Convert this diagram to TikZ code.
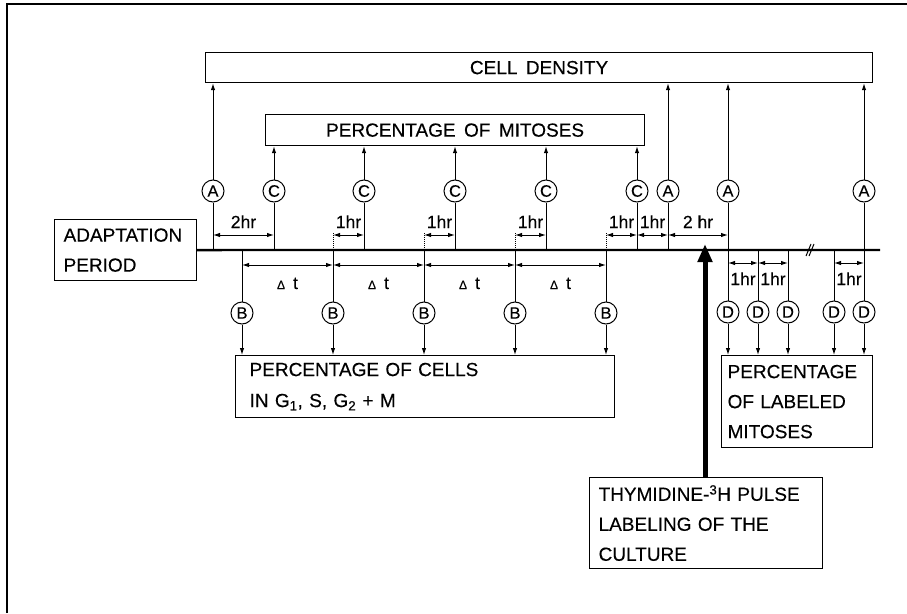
\documentclass[tikz,border=0pt]{standalone}
\usepackage{fontspec}
\setmainfont{Liberation Sans}[FakeBold=0.3]
\newfontfamily\lettfont{Liberation Sans}[WordSpace=1.6,FakeBold=0.3]
\usetikzlibrary{arrows.meta}
\tikzset{
  boxst/.style={draw, line width=1.2pt, inner sep=0pt, font=\lettfont\fontsize{19}{30}\selectfont},
  circ/.style={draw, circle, minimum size=22pt, inner sep=0pt, line width=1pt, font=\fontsize{16.5}{16.5}\selectfont},
  conn/.style={line width=1pt},
  arr/.style={line width=1pt, -{Latex[length=7pt,width=4.5pt]}},
  dimarr/.style={line width=1pt, {Latex[length=7pt,width=4.5pt]}-{Latex[length=7pt,width=4.5pt]}},
  tline/.style={line width=2.3pt},
  lbl/.style={inner sep=0pt, anchor=base, font=\fontsize{17.5}{17.5}\selectfont},
}
\newcommand{\dlt}{{\fontsize{12}{12}\selectfont Δ}\hspace{8pt}t}
\begin{document}
\begin{tikzpicture}[x=1pt,y=-1pt]
\useasboundingbox (0,0) rectangle (907,613);
\draw[line width=1.3pt] (7,613) -- (7,4) -- (907,4);

% boxes
\node[boxst, minimum width=667pt, minimum height=30pt, anchor=north west] (density) at (205,52) {CELL DENSITY};
\node[boxst, minimum width=379pt, minimum height=31pt, anchor=north west] (mitoses) at (265,114) {PERCENTAGE OF MITOSES};
\node[boxst, anchor=north west, text width=124pt, inner xsep=9pt, minimum height=61pt, align=left] (adapt) at (54,219) {ADAPTATION\\PERIOD};
\node[boxst, anchor=north west, text width=351pt, inner xsep=14pt, minimum height=62pt, align=left, font=\lettfont\fontsize{19}{31}\selectfont] (cells) at (235,355) {PERCENTAGE OF CELLS\\IN G\textsubscript{1}, S, G\textsubscript{2} + M};
\node[boxst, anchor=north west, text width=139pt, inner xsep=6pt, minimum height=92pt, align=left] (labeled) at (721,355) {PERCENTAGE\\OF LABELED\\MITOSES};
\node[boxst, anchor=north west, text width=215pt, inner xsep=9pt, minimum height=91pt, align=left] (thym) at (589,477) {THYMIDINE-\textsuperscript{3}H PULSE\\LABELING OF THE\\CULTURE};

% timeline
\coordinate (tend) at (880,250);
\draw[tline] (adapt.east) -- (tend);
\draw[conn] (806,256) -- (811,244) (809,256) -- (814,244);

% circles
\node[circ] (A1) at (213,191) {A};
\node[circ] (A2) at (668,191) {A};
\node[circ] (A3) at (728,191) {A};
\node[circ] (A4) at (864,191) {A};
\node[circ] (C1) at (274,191) {C};
\node[circ] (C2) at (364,191) {C};
\node[circ] (C3) at (455,191) {C};
\node[circ] (C4) at (546,191) {C};
\node[circ] (C5) at (637,191) {C};
\node[circ] (B1) at (242,313) {B};
\node[circ] (B2) at (333,313) {B};
\node[circ] (B3) at (424,313) {B};
\node[circ] (B4) at (515,313) {B};
\node[circ] (B5) at (606,313) {B};
\node[circ] (D1) at (728,312) {D};
\node[circ] (D2) at (758,312) {D};
\node[circ] (D3) at (788,312) {D};
\node[circ] (D4) at (834,312) {D};
\node[circ] (D5) at (864,312) {D};

% connectors up
\foreach \n in {A1,A2,A3,A4} \draw[arr] (\n) -- (\n |- density.south);
\foreach \n in {C1,C2,C3,C4,C5} \draw[arr] (\n) -- (\n |- mitoses.south);
\foreach \n in {A1,A2,C1,C2,C3,C4,C5} \draw[conn] (\n) -- (\n |- tend);
\draw[conn] (A3) -- (D1);
\draw[conn] (A4) -- (D5);
% connectors down
\foreach \n in {B1,B2,B3,B4,B5} {
  \draw[conn] (\n |- tend) -- (\n);
  \draw[arr] (\n) -- (\n |- cells.north);
}
\foreach \n in {B2,B3,B4,B5} \draw[conn, densely dotted] (\n |- tend) -- ++(0,-18);
\foreach \n in {D2,D3,D4} \draw[conn] (\n |- tend) -- (\n);
\foreach \n in {D1,D2,D3,D4,D5} \draw[arr] (\n) -- (\n |- labeled.north);

% dimension arrows above
\draw[dimarr] (A1 |- 0,235) -- (C1 |- 0,235);
\draw[dimarr] (B2 |- 0,235) -- (C2 |- 0,235);
\draw[dimarr] (B3 |- 0,235) -- (C3 |- 0,235);
\draw[dimarr] (B4 |- 0,235) -- (C4 |- 0,235);
\draw[dimarr] (B5 |- 0,235) -- (C5 |- 0,235);
\draw[dimarr] (C5 |- 0,235) -- (A2 |- 0,235);
\draw[dimarr] (A2 |- 0,235) -- (A3 |- 0,235);
\path (A1 |- 0,228) -- node[lbl] (h1) {2hr} (C1 |- 0,228);
\path (B2 |- 0,228) -- node[lbl] (h2) {1hr} (C2 |- 0,228);
\path (B3 |- 0,228) -- node[lbl] (h3) {1hr} (C3 |- 0,228);
\path (B4 |- 0,228) -- node[lbl] (h4) {1hr} (C4 |- 0,228);
\path (B5 |- 0,228) -- node[lbl] (h5) {1hr} (C5 |- 0,228);
\path (C5 |- 0,228) -- node[lbl] (h6) {1hr} (A2 |- 0,228);
\path (A2 |- 0,228) -- node[lbl] (h7) {2 hr} (A3 |- 0,228);

% delta t arrows below
\draw[dimarr] (B1 |- 0,265) -- (B2 |- 0,265);
\draw[dimarr] (B2 |- 0,265) -- (B3 |- 0,265);
\draw[dimarr] (B3 |- 0,265) -- (B4 |- 0,265);
\draw[dimarr] (B4 |- 0,265) -- (B5 |- 0,265);
\path (B1 |- 0,289) -- node[lbl] (t1) {\dlt} (B2 |- 0,289);
\path (B2 |- 0,289) -- node[lbl] (t2) {\dlt} (B3 |- 0,289);
\path (B3 |- 0,289) -- node[lbl] (t3) {\dlt} (B4 |- 0,289);
\path (B4 |- 0,289) -- node[lbl] (t4) {\dlt} (B5 |- 0,289);

% D arrows
\draw[dimarr] (D1 |- 0,263) -- (D2 |- 0,263);
\draw[dimarr] (D2 |- 0,263) -- (D3 |- 0,263);
\draw[dimarr] (D4 |- 0,263) -- (D5 |- 0,263);
\path (D1 |- 0,285) -- node[lbl] (d1) {1hr} (D2 |- 0,285);
\path (D2 |- 0,285) -- node[lbl] (d2) {1hr} (D3 |- 0,285);
\path (D4 |- 0,285) -- node[lbl] (d3) {1hr} (D5 |- 0,285);

% pulse arrow
\coordinate (pulsetip) at (705,244);
\draw[line width=5pt, -{Triangle[length=18pt,width=14pt]}] (thym.north -| pulsetip) -- (pulsetip);
\end{tikzpicture}
\end{document}
